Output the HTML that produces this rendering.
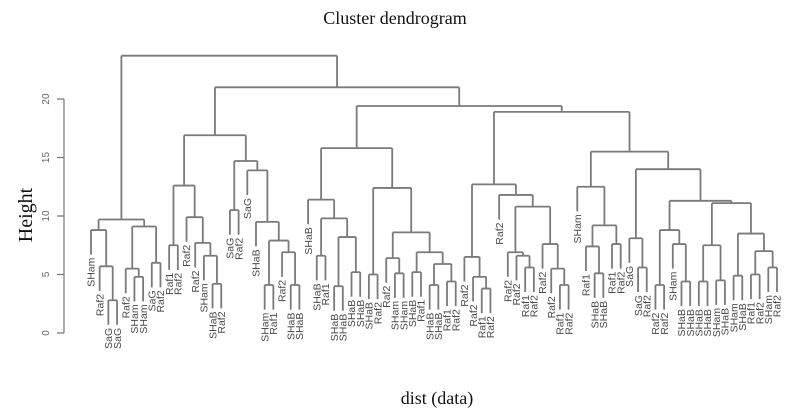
<!DOCTYPE html>
<html><head><meta charset="utf-8"><style>
body{margin:0;background:#fff;}
svg{display:block;}
</style></head><body>
<svg id="chart" width="789" height="416" viewBox="0 0 789 416" xmlns="http://www.w3.org/2000/svg">
<text x="395" y="24" text-anchor="middle" font-family="Liberation Serif, serif" font-size="18" fill="#111">Cluster dendrogram</text>
<text x="437" y="404" text-anchor="middle" font-family="Liberation Serif, serif" font-size="18" fill="#111">dist (data)</text>
<text transform="translate(32,215) rotate(-90)" text-anchor="middle" font-family="Liberation Serif, serif" font-size="20" fill="#111">Height</text>
<g id="axis"></g>
<g id="tree"></g>
<g id="labels"></g>
</svg>
<script>
const leafLabels = ["SHam","Raf2","SaG","SaG","Raf2","SHam","SHam","SaG","Raf2",
"Raf1","Raf2","Raf2","Raf2","SHam","SHaB","Raf2",
"SaG","Raf2","SaG","SHaB","SHam","Raf1","Raf2","SHaB","SHaB",
"SHaB","SHaB","Raf1","SHaB","SHaB","SHaB","SHaB",
"SHaB","Raf2","Raf2","SHam","SHam","SHaB","Raf1","SHaB","SHaB","Raf1","Raf2",
"Raf2","Raf2","Raf1","Raf2","Raf2","Raf2","Raf2","Raf1","Raf2","Raf2","Raf2","Raf1","Raf2",
"SHam","Raf1","SHaB","SHaB","Raf1","Raf2",
"SaG","SaG","Raf2","Raf2","Raf2","SHam","SHaB","SHaB","SHaB","SHaB","SHam","SHaB","SHam","SHaB","Raf1","Raf2","SHam","Raf2"];
const yTicks = [0,5,10,15,20];
// merge tree: [height, left, right]; numbers are leaf indices
const clusterA = [9.7, [8.8, 0, [5.7, 1, [2.8, 2, 3]]], [9.1, [5.5, 4, [4.8, 5, 6]], [6.0, 7, 8]]];
const clusterC1 = [12.6, [7.5, 9, 10], [9.9, 11, [7.7, 12, [6.6, 13, [4.2, 14, 15]]]]];
const clusterC2 = [14.7, [10.5, 16, 17], [13.9, 18, [9.5, 19, [7.9, [4.1, 20, 21], [6.9, 22, [4.1, 23, 24]]]]]];
const clusterE1 = [11.4, 25, [9.8, [6.6, 26, 27], [8.2, [4.0, 28, 29], [5.2, 30, 31]]]];
const clusterE2 = [12.4, [5.0, 32, 33], [8.6, [6.4, 34, [5.1, 35, 36]], [6.9, [5.2, 37, 38], [5.9, [4.1, 39, 40], [4.4, 41, 42]]]]];
const clusterG = [12.7, [6.5, 43, [4.8, 44, [3.8, 45, 46]]], [11.8, 47, [10.8, [6.9, 48, [6.6, 49, [5.6, 50, 51]]], [7.6, 52, [5.5, 53, [4.1, 54, 55]]]]]];
const clusterHL = [12.5, 56, [9.2, [7.4, 57, [5.1, 58, 59]], [7.6, 60, 61]]];
const clusterHR = [14.0, [8.1, 62, [5.6, 63, 64]], [11.3, [8.8, [4.1, 65, 66], [7.6, 67, [4.4, 68, 69]]], [11.1, [7.5, [4.4, 70, 71], [4.5, 72, 73]], [8.5, [4.9, 74, 75], [7.0, [5.0, 76, 77], [5.6, 78, 79]]]]]];
const upperHeights = [23.7, 21.0, 16.9, 19.4, 15.8, 18.9, 15.5]; // root, B, C, D, E, F, H
const hang = 2.1;

const tree = [upperHeights[0], clusterA,
  [upperHeights[1], [upperHeights[2], clusterC1, clusterC2],
    [upperHeights[3], [upperHeights[4], clusterE1, clusterE2],
      [upperHeights[5], clusterG, [upperHeights[6], clusterHL, clusterHR]]]]];

const NS = "http://www.w3.org/2000/svg";
const x0 = 91, x1 = 777, y0 = 333, pxPerUnit = 11.7;
const xScale = i => x0 + i * (x1 - x0) / (leafLabels.length - 1);
const yScale = h => y0 - h * pxPerUnit;
const gT = document.getElementById('tree'), gL = document.getElementById('labels'), gA = document.getElementById('axis');
let pathD = "";
function layout(n) {
  if (typeof n === 'number') return {x: xScale(n), h: null, leaf: n};
  const l = layout(n[1]), r = layout(n[2]);
  const h = n[0], y = yScale(h);
  [l, r].forEach(c => {
    const yEnd = c.h === null ? yScale(h - hang) : yScale(c.h);
    pathD += `M${c.x},${y}V${yEnd}`;
    if (c.h === null) {
      const t = document.createElementNS(NS, 'text');
      
      
      const ly = yEnd + 3;
      t.setAttribute('transform', `translate(${c.x + 3.7},${ly}) rotate(-90)`);
      t.setAttribute('text-anchor', 'end');
      t.setAttribute('font-family', 'Liberation Sans, sans-serif');
      t.setAttribute('font-size', '10.5');
      t.setAttribute('fill', '#4a4a4a');
      t.textContent = leafLabels[c.leaf];
      gL.appendChild(t);
    }
  });
  pathD += `M${l.x},${y}H${r.x}`;
  return {x: (l.x + r.x) / 2, h: h};
}
layout(tree);
const p = document.createElementNS(NS, 'path');


p.setAttribute('d', pathD);
p.setAttribute('stroke', '#7a7a7a');
p.setAttribute('stroke-width', '1.8');
p.setAttribute('fill', 'none');
gT.appendChild(p);

// axis
const ax = document.createElementNS(NS, 'path');


let ad = `M64,${yScale(0)}V${yScale(yTicks[yTicks.length-1])}`;
yTicks.forEach(v => { ad += `M64,${yScale(v)}H57`; });
ax.setAttribute('d', ad);
ax.setAttribute('stroke', '#777');
ax.setAttribute('stroke-width', '1.2');
ax.setAttribute('fill', 'none');
gA.appendChild(ax);
yTicks.forEach(v => {
  const t = document.createElementNS(NS, 'text');
  
  
  t.setAttribute('transform', `translate(49,${yScale(v)}) rotate(-90)`);
  t.setAttribute('text-anchor', 'middle');
  t.setAttribute('font-family', 'Liberation Sans, sans-serif');
  t.setAttribute('font-size', '10');
  t.setAttribute('fill', '#666');
  t.textContent = v;
  gA.appendChild(t);
});
</script>
</body></html>
